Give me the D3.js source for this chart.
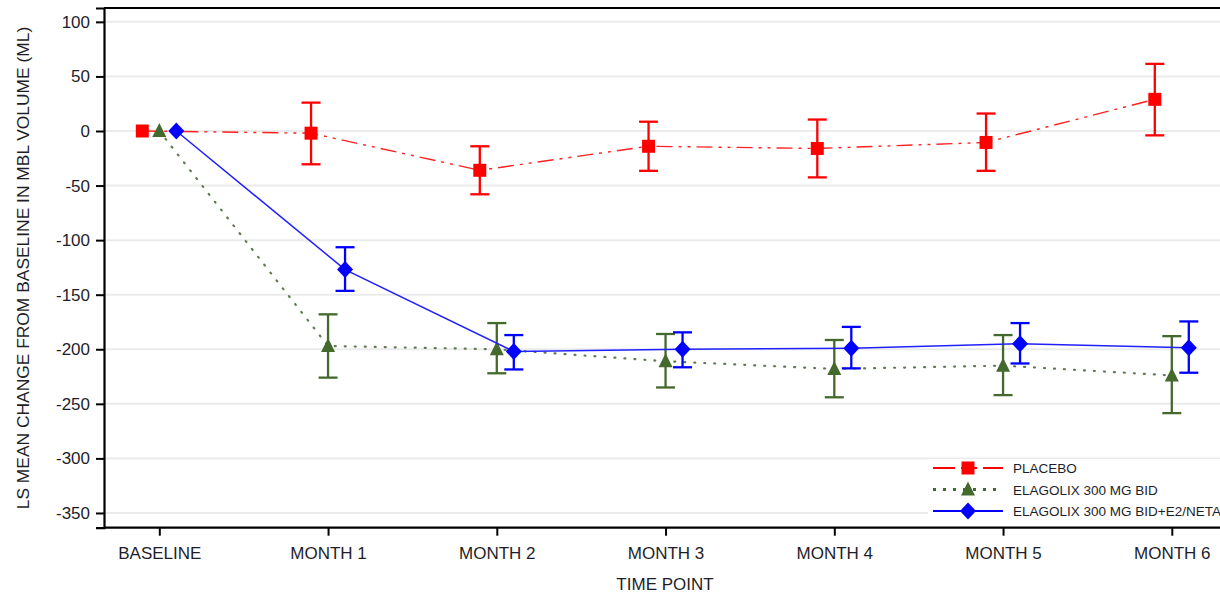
<!DOCTYPE html>
<html>
<head>
<meta charset="utf-8">
<script src="https://cdn.jsdelivr.net/npm/d3@7"></script>
<style>
  body { margin: 0; background: #fff; }
  svg { display: block; font-family: "Liberation Sans", Arial, sans-serif; }
</style>
</head>
<body>
<svg id="chart" width="1220" height="595"></svg>
<script>
// time points on the x axis
const timePoints = ["BASELINE", "MONTH 1", "MONTH 2", "MONTH 3", "MONTH 4", "MONTH 5", "MONTH 6"];
const yTicks = [100, 50, 0, -50, -100, -150, -200, -250, -300, -350];

// LS mean change and 95% CI per arm (baseline has no CI)
const placeboMean = [0, -2, -36, -14, -16, -10.5, 29];
const placeboLow  = [null, -30.5, -58, -36.5, -42.5, -36.5, -4];
const placeboHigh = [null, 26, -14, 8.5, 10.5, 16, 61.5];

const elagolixMean = [0, -197, -200, -211, -218, -215, -224];
const elagolixLow  = [null, -226, -222, -235, -244, -242, -258.5];
const elagolixHigh = [null, -168, -176, -186, -191.5, -187, -188];

const addbackMean = [0, -127, -202, -200, -199, -195, -198.5];
const addbackLow  = [null, -146.5, -218.5, -216.5, -217.5, -213, -221.5];
const addbackHigh = [null, -106.5, -187, -184.5, -179.5, -176, -174.5];

const seriesNames = ["PLACEBO", "ELAGOLIX 300 MG BID", "ELAGOLIX 300 MG BID+E2/NETA"];

const series = [
  { name: seriesNames[0], mean: placeboMean, low: placeboLow, high: placeboHigh,
    color: "#ff0000", line: "#ff2020", dash: "16,6,3,6,3,6", width: 1.4, shape: "square" },
  { name: seriesNames[1], mean: elagolixMean, low: elagolixLow, high: elagolixHigh,
    color: "#44692c", line: "#5f7a55", dash: "1,9", width: 2.2, shape: "triangle", cap: "round" },
  { name: seriesNames[2], mean: addbackMean, low: addbackLow, high: addbackHigh,
    color: "#0000ff", line: "#2020ff", dash: null, width: 1.5, shape: "diamond" },
];

const svg = d3.select("#chart");
const plot = { left: 104, right: 1240, top: 8, bottom: 527.7 };
const textColor = "#1e1e2a";

const x = d3.scalePoint().domain(timePoints).range([159.3, 1171.8]);
const dodge = d3.scalePoint().domain(seriesNames).range([-17, 17]);
const y = d3.scaleLinear().domain([-363.5, 112.7]).range([plot.bottom, plot.top]);

// gridlines
svg.append("g")
  .selectAll("line")
  .data(yTicks)
  .join("line")
  .attr("x1", plot.left).attr("x2", plot.right)
  .attr("y1", d => y(d)).attr("y2", d => y(d))
  .attr("stroke", "#ebebeb").attr("stroke-width", 2);

// top frame line
svg.append("line")
  .attr("x1", plot.left).attr("x2", plot.right)
  .attr("y1", plot.top).attr("y2", plot.top)
  .attr("stroke", "#000").attr("stroke-width", 2);

// y axis
const yAxis = svg.append("g")
  .attr("transform", `translate(${plot.left},0)`)
  .call(d3.axisLeft(y).tickValues(yTicks).tickFormat(d => String(d))
    .tickSizeOuter(0).tickSize(8).tickPadding(6));
yAxis.select(".domain").attr("stroke-width", 2.2);
yAxis.selectAll(".tick line").attr("stroke-width", 2);
yAxis.selectAll(".tick text")
  .attr("font-size", 17).attr("fill", textColor)
  .attr("font-family", "Liberation Sans, Arial, sans-serif");

// x axis
const xAxis = svg.append("g")
  .attr("transform", `translate(0,${plot.bottom})`)
  .call(d3.axisBottom(x).tickSizeOuter(0).tickSize(8).tickPadding(11));
xAxis.select(".domain").attr("d", `M${plot.left},0H${plot.right}`).attr("stroke-width", 2.2);
xAxis.selectAll(".tick line").attr("stroke-width", 2);
xAxis.selectAll(".tick text")
  .attr("font-size", 17).attr("fill", textColor)
  .attr("font-family", "Liberation Sans, Arial, sans-serif");

// axis titles
svg.append("text")
  .attr("x", 665).attr("y", 590)
  .attr("text-anchor", "middle")
  .attr("font-size", 17).attr("fill", textColor)
  .text("TIME POINT");
svg.append("text")
  .attr("transform", "translate(29,268) rotate(-90)")
  .attr("text-anchor", "middle")
  .attr("font-size", 17.4).attr("fill", textColor)
  .text("LS MEAN CHANGE FROM BASELINE IN MBL VOLUME (ML)");

function markerPath(shape) {
  if (shape === "square") return "M-6.5,-6.5H6.5V6.5H-6.5Z";
  if (shape === "triangle") return "M0,-8L7,6H-7Z";
  return "M0,-8.5L8,0L0,8.5L-8,0Z";
}

const px = (s, i) => x(timePoints[i]) + dodge(s.name);

series.forEach(s => {
  const g = svg.append("g");
  const pts = s.mean.map((v, i) => ({ i, v }));

  // connecting line
  g.append("path")
    .datum(pts)
    .attr("fill", "none")
    .attr("stroke", s.line)
    .attr("stroke-width", s.width)
    .attr("stroke-dasharray", s.dash)
    .attr("stroke-linecap", s.cap || "butt")
    .attr("d", d3.line().x(d => px(s, d.i)).y(d => y(d.v)));

  // error bars
  const bars = pts.filter(d => s.low[d.i] !== null);
  const eb = g.selectAll(".eb").data(bars).join("g")
    .attr("stroke", s.color).attr("stroke-width", 2.3).attr("fill", "none");
  eb.append("line")
    .attr("x1", d => px(s, d.i)).attr("x2", d => px(s, d.i))
    .attr("y1", d => y(s.low[d.i])).attr("y2", d => y(s.high[d.i]));
  eb.append("line")
    .attr("x1", d => px(s, d.i) - 9.5).attr("x2", d => px(s, d.i) + 9.5)
    .attr("y1", d => y(s.low[d.i])).attr("y2", d => y(s.low[d.i]));
  eb.append("line")
    .attr("x1", d => px(s, d.i) - 9.5).attr("x2", d => px(s, d.i) + 9.5)
    .attr("y1", d => y(s.high[d.i])).attr("y2", d => y(s.high[d.i]));

  // markers
  g.selectAll(".mk").data(pts).join("path")
    .attr("transform", d => `translate(${px(s, d.i)},${y(d.v)})`)
    .attr("d", markerPath(s.shape))
    .attr("fill", s.color);
});

// legend
const legend = svg.append("g");
legend.append("rect")
  .attr("x", 928).attr("y", 459).attr("width", 300).attr("height", 63)
  .attr("fill", "#fff");
const rows = legend.selectAll(".row").data(series).join("g")
  .attr("transform", (d, i) => `translate(0,${468 + i * 21.5})`);
rows.append("line")
  .attr("x1", 933).attr("x2", 1003)
  .attr("stroke", d => d.color)
  .attr("stroke-width", d => d.width + 0.6)
  .attr("stroke-dasharray", d => d.name === "PLACEBO" ? "22,6,5,6,5,6" : (d.dash ? "3,7" : null))
  .attr("stroke-linecap", "butt");
rows.append("path")
  .attr("transform", "translate(968,0)")
  .attr("d", d => markerPath(d.shape))
  .attr("fill", d => d.color);
rows.append("text")
  .attr("x", 1013).attr("y", 5)
  .attr("font-size", 13.5).attr("fill", textColor)
  .text(d => d.name);
</script>
</body>
</html>
